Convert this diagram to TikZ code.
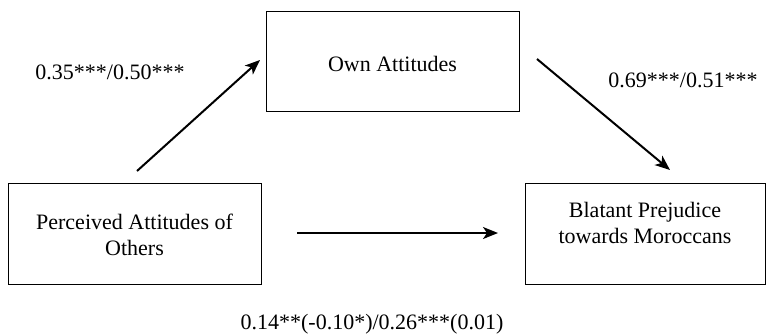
\documentclass[tikz,border=0pt]{standalone}
\usepackage{fontspec}
\setmainfont{Liberation Serif}
\usetikzlibrary{arrows.meta}
\begin{document}
\begin{tikzpicture}[x=1pt,y=-1pt,
  box/.style={draw, line width=1pt, inner sep=0pt},
  txt/.style={font=\fontsize{22}{26}\selectfont, inner sep=0pt, align=center},
  conn/.style={line width=2pt, -{Stealth[length=15pt,width=12pt,inset=4pt]}}]
\useasboundingbox (0,0) rectangle (766,333);
\node[box, minimum width=252.5pt, minimum height=100pt] (ownbox) at (392.75,61.5) {};
\node[box, minimum width=252.5pt, minimum height=100.5pt] (percbox) at (134.75,233.75) {};
\node[box, minimum width=240pt, minimum height=100.5pt] (blatbox) at (645.5,233.75) {};
\node[txt] (own) at (392.5,64) {Own Attitudes};
\node[txt] (perc) at (134.5,235) {Perceived Attitudes of\\Others};
\node[txt] (blat) at (645,223) {Blatant Prejudice\\towards Moroccans};
\coordinate (a1s) at (137,171);
\coordinate (a1e) at (260,60);
\coordinate (a2s) at (537,59);
\coordinate (a2e) at (670,170);
\coordinate (a3s) at (297,233);
\coordinate (a3e) at (498,233);
\draw[conn] (a1s) -- (a1e);
\draw[conn] (a2s) -- (a2e);
\draw[conn] (a3s) -- (a3e);
\node[txt] (l1) at (110,72) {0.35***/0.50***};
\node[txt] (l2) at (683,80) {0.69***/0.51***};
\node[txt] (l3) at (372,324) {0.14**(-0.10*)/0.26***(0.01)};
\end{tikzpicture}
\end{document}
